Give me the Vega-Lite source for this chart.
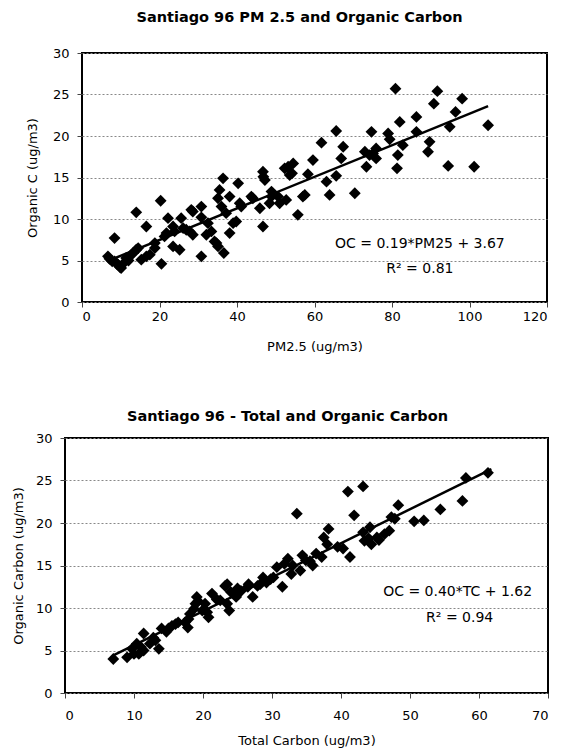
{
  "$schema": "https://vega.github.io/schema/vega-lite/v6.json",
  "padding": {"left": 11, "top": 8, "right": 5, "bottom": 0},
  "config": {
    "font": "DejaVu Sans",
    "view": {"stroke": "black", "strokeWidth": 2},
    "axis": {
      "labelFont": "DejaVu Sans", "labelFontSize": 13, "labelColor": "black",
      "titleFont": "DejaVu Sans", "titleFontSize": 13, "titleFontWeight": "normal", "titleColor": "black",
      "domain": false, "tickColor": "#444", "tickSize": 5,
      "gridColor": "#888", "gridDash": [2, 2], "gridWidth": 1
    },
    "title": {"font": "DejaVu Sans", "fontSize": 14.5, "fontWeight": "bold", "color": "black", "frame": "group", "anchor": "middle"}
  },
  "datasets": {
    "pm": [
      {"pm25": 6.7, "oc": 5.5}, {"pm25": 7.1, "oc": 5.2}, {"pm25": 7.8, "oc": 4.9}, {"pm25": 8.4, "oc": 7.7}, {"pm25": 8.4, "oc": 4.9},
      {"pm25": 9.0, "oc": 4.6}, {"pm25": 9.3, "oc": 4.5}, {"pm25": 9.8, "oc": 4.2}, {"pm25": 10.1, "oc": 4.1}, {"pm25": 10.6, "oc": 4.6},
      {"pm25": 11.4, "oc": 5.3}, {"pm25": 12.0, "oc": 5.0}, {"pm25": 12.5, "oc": 5.6}, {"pm25": 13.2, "oc": 5.9}, {"pm25": 14.0, "oc": 10.8},
      {"pm25": 14.0, "oc": 6.3}, {"pm25": 14.5, "oc": 6.5}, {"pm25": 15.3, "oc": 5.1}, {"pm25": 16.6, "oc": 9.1}, {"pm25": 16.6, "oc": 5.5},
      {"pm25": 17.5, "oc": 5.7}, {"pm25": 18.8, "oc": 7.1}, {"pm25": 18.8, "oc": 6.5}, {"pm25": 20.3, "oc": 12.2}, {"pm25": 20.5, "oc": 4.6},
      {"pm25": 21.3, "oc": 7.9}, {"pm25": 21.8, "oc": 8.3}, {"pm25": 22.2, "oc": 10.1}, {"pm25": 23.5, "oc": 9.1}, {"pm25": 23.9, "oc": 8.5},
      {"pm25": 23.5, "oc": 6.7}, {"pm25": 25.2, "oc": 6.3}, {"pm25": 25.6, "oc": 10.1}, {"pm25": 26.1, "oc": 8.9}, {"pm25": 26.9, "oc": 8.7},
      {"pm25": 27.8, "oc": 8.5}, {"pm25": 28.2, "oc": 11.1}, {"pm25": 28.6, "oc": 10.9}, {"pm25": 28.6, "oc": 8.1}, {"pm25": 30.8, "oc": 11.5},
      {"pm25": 30.8, "oc": 10.2}, {"pm25": 30.8, "oc": 5.5}, {"pm25": 32.1, "oc": 8.1}, {"pm25": 32.5, "oc": 9.5}, {"pm25": 33.4, "oc": 8.5},
      {"pm25": 34.2, "oc": 7.3}, {"pm25": 34.7, "oc": 7.1}, {"pm25": 35.1, "oc": 6.7}, {"pm25": 35.1, "oc": 12.5}, {"pm25": 35.5, "oc": 13.5},
      {"pm25": 36.0, "oc": 11.5}, {"pm25": 36.4, "oc": 14.9}, {"pm25": 36.6, "oc": 5.9}, {"pm25": 37.2, "oc": 10.7}, {"pm25": 38.1, "oc": 12.7},
      {"pm25": 38.1, "oc": 8.3}, {"pm25": 39.0, "oc": 9.5}, {"pm25": 39.8, "oc": 9.7}, {"pm25": 40.3, "oc": 14.3}, {"pm25": 40.7, "oc": 11.9},
      {"pm25": 41.1, "oc": 11.5}, {"pm25": 43.7, "oc": 12.7}, {"pm25": 44.1, "oc": 12.5}, {"pm25": 45.9, "oc": 11.3}, {"pm25": 46.7, "oc": 15.7},
      {"pm25": 46.8, "oc": 15.1}, {"pm25": 47.2, "oc": 14.7}, {"pm25": 46.7, "oc": 9.1}, {"pm25": 48.4, "oc": 11.9}, {"pm25": 48.9, "oc": 12.7},
      {"pm25": 48.9, "oc": 13.3}, {"pm25": 50.6, "oc": 12.7}, {"pm25": 51.0, "oc": 11.9}, {"pm25": 52.3, "oc": 16.1}, {"pm25": 52.7, "oc": 12.3},
      {"pm25": 53.2, "oc": 16.3}, {"pm25": 53.6, "oc": 15.3}, {"pm25": 54.2, "oc": 15.5}, {"pm25": 54.5, "oc": 16.7}, {"pm25": 55.7, "oc": 10.5},
      {"pm25": 57.0, "oc": 12.7}, {"pm25": 57.5, "oc": 12.9}, {"pm25": 58.3, "oc": 15.4}, {"pm25": 59.6, "oc": 17.1}, {"pm25": 61.8, "oc": 19.2},
      {"pm25": 63.1, "oc": 14.5}, {"pm25": 63.9, "oc": 12.9}, {"pm25": 65.6, "oc": 15.2}, {"pm25": 65.6, "oc": 20.6}, {"pm25": 66.9, "oc": 17.3},
      {"pm25": 67.4, "oc": 18.7}, {"pm25": 70.4, "oc": 13.1}, {"pm25": 73.0, "oc": 18.1}, {"pm25": 73.4, "oc": 16.3}, {"pm25": 74.2, "oc": 17.7},
      {"pm25": 74.7, "oc": 20.5}, {"pm25": 75.1, "oc": 17.9}, {"pm25": 75.9, "oc": 18.5}, {"pm25": 75.9, "oc": 17.3}, {"pm25": 79.0, "oc": 20.3},
      {"pm25": 79.4, "oc": 19.6}, {"pm25": 80.9, "oc": 25.7}, {"pm25": 81.3, "oc": 16.1}, {"pm25": 81.5, "oc": 17.7}, {"pm25": 82.0, "oc": 21.7},
      {"pm25": 82.8, "oc": 18.9}, {"pm25": 86.3, "oc": 22.3}, {"pm25": 86.3, "oc": 20.5}, {"pm25": 89.3, "oc": 18.1}, {"pm25": 89.7, "oc": 19.3},
      {"pm25": 90.8, "oc": 23.9}, {"pm25": 91.7, "oc": 25.4}, {"pm25": 94.5, "oc": 16.4}, {"pm25": 94.9, "oc": 21.1}, {"pm25": 96.4, "oc": 22.9},
      {"pm25": 98.1, "oc": 24.5}, {"pm25": 101.2, "oc": 16.3}, {"pm25": 104.8, "oc": 21.3}
    ],
    "pmfit": [{"pm25": 7.0, "oc": 5.0}, {"pm25": 104.8, "oc": 23.6}],
    "pmlabel": [{"eq": "OC = 0.19*PM25 + 3.67", "r2": "R² = 0.81"}],
    "tc": [
      {"tc": 7.0, "oc": 4.0}, {"tc": 9.0, "oc": 4.2}, {"tc": 9.7, "oc": 5.2}, {"tc": 10.0, "oc": 4.6}, {"tc": 10.4, "oc": 5.8},
      {"tc": 10.7, "oc": 4.6}, {"tc": 11.0, "oc": 5.4}, {"tc": 11.4, "oc": 7.0}, {"tc": 11.4, "oc": 5.0}, {"tc": 12.3, "oc": 5.8},
      {"tc": 12.8, "oc": 6.5}, {"tc": 13.1, "oc": 6.2}, {"tc": 13.6, "oc": 5.2}, {"tc": 14.0, "oc": 7.6}, {"tc": 14.7, "oc": 7.2},
      {"tc": 15.0, "oc": 7.6}, {"tc": 15.5, "oc": 7.9}, {"tc": 16.0, "oc": 8.1}, {"tc": 16.4, "oc": 8.3}, {"tc": 17.4, "oc": 8.3},
      {"tc": 17.8, "oc": 7.7}, {"tc": 17.9, "oc": 8.7}, {"tc": 18.1, "oc": 9.3}, {"tc": 18.7, "oc": 9.9}, {"tc": 18.9, "oc": 10.5},
      {"tc": 19.1, "oc": 11.3}, {"tc": 19.3, "oc": 10.8}, {"tc": 19.9, "oc": 9.7}, {"tc": 20.3, "oc": 10.5}, {"tc": 20.6, "oc": 9.5},
      {"tc": 20.8, "oc": 8.9}, {"tc": 21.3, "oc": 11.7}, {"tc": 22.0, "oc": 11.0}, {"tc": 22.5, "oc": 10.9}, {"tc": 23.2, "oc": 12.6},
      {"tc": 23.5, "oc": 12.8}, {"tc": 23.5, "oc": 10.5}, {"tc": 23.8, "oc": 9.7}, {"tc": 24.0, "oc": 11.9}, {"tc": 24.8, "oc": 11.3},
      {"tc": 25.0, "oc": 12.3}, {"tc": 25.5, "oc": 12.0}, {"tc": 26.5, "oc": 12.5}, {"tc": 26.6, "oc": 12.8}, {"tc": 27.2, "oc": 11.3},
      {"tc": 27.9, "oc": 12.6}, {"tc": 28.3, "oc": 12.8}, {"tc": 28.7, "oc": 13.6}, {"tc": 29.2, "oc": 13.0}, {"tc": 29.8, "oc": 13.4},
      {"tc": 30.2, "oc": 13.6}, {"tc": 30.7, "oc": 14.8}, {"tc": 31.5, "oc": 12.5}, {"tc": 31.8, "oc": 15.2}, {"tc": 32.3, "oc": 15.8},
      {"tc": 32.8, "oc": 14.0}, {"tc": 33.0, "oc": 15.0}, {"tc": 33.6, "oc": 21.1}, {"tc": 34.1, "oc": 14.4}, {"tc": 34.4, "oc": 16.2},
      {"tc": 34.9, "oc": 15.6}, {"tc": 35.5, "oc": 15.5}, {"tc": 35.9, "oc": 15.0}, {"tc": 36.4, "oc": 16.4}, {"tc": 37.2, "oc": 16.0},
      {"tc": 37.5, "oc": 18.3}, {"tc": 38.0, "oc": 17.5}, {"tc": 38.2, "oc": 19.3}, {"tc": 39.5, "oc": 17.2}, {"tc": 40.3, "oc": 17.0},
      {"tc": 41.0, "oc": 23.7}, {"tc": 41.3, "oc": 16.0}, {"tc": 41.9, "oc": 20.9}, {"tc": 43.2, "oc": 24.3}, {"tc": 43.2, "oc": 18.9},
      {"tc": 43.4, "oc": 17.9}, {"tc": 44.0, "oc": 18.2}, {"tc": 44.2, "oc": 19.5}, {"tc": 44.4, "oc": 17.5}, {"tc": 45.2, "oc": 18.3},
      {"tc": 45.5, "oc": 18.0}, {"tc": 46.3, "oc": 18.7}, {"tc": 47.0, "oc": 19.1}, {"tc": 47.3, "oc": 20.7}, {"tc": 47.8, "oc": 20.5},
      {"tc": 48.3, "oc": 22.1}, {"tc": 50.6, "oc": 20.2}, {"tc": 52.0, "oc": 20.3}, {"tc": 54.4, "oc": 21.6}, {"tc": 57.6, "oc": 22.6},
      {"tc": 58.1, "oc": 25.3}, {"tc": 61.3, "oc": 25.9}
    ],
    "tcfit": [{"tc": 7.0, "oc": 4.42}, {"tc": 61.8, "oc": 26.34}],
    "tclabel": [{"eq": "OC = 0.40*TC + 1.62", "r2": "R² = 0.94"}]
  },
  "vconcat": [
    {
      "hconcat": [
        {"width": 1, "height": 1, "data": {"values": []}, "mark": {"type": "point", "opacity": 0}, "view": {"stroke": null}},
        {
          "width": 465,
          "height": 249,
          "title": {"text": "Santiago 96 PM 2.5 and Organic Carbon", "offset": 22, "dx": -15},
          "layer": [
            {
              "encoding": {
                "x": {"field": "pm25", "type": "quantitative",
                  "scale": {"domain": [0, 120], "nice": false, "zero": false},
                  "axis": {"title": "PM2.5 (ug/m3)", "values": [0, 20, 40, 60, 80, 100, 120], "grid": false, "labelPadding": 3, "titlePadding": 17}},
                "y": {"field": "oc", "type": "quantitative",
                  "scale": {"domain": [0, 30], "nice": false},
                  "axis": {"title": "Organic C (ug/m3)", "values": [0, 5, 10, 15, 20, 25, 30], "grid": true, "labelPadding": 8, "titlePadding": 13}}
              },
              "layer": [
                {"data": {"name": "pm"}, "mark": {"type": "point", "shape": "diamond", "filled": true, "color": "black", "opacity": 1, "size": 140}},
                {"data": {"name": "pmfit"}, "mark": {"type": "line", "color": "black", "strokeWidth": 2.5}}
              ]
            },
            {"data": {"name": "pmlabel"}, "mark": {"type": "text", "font": "DejaVu Sans", "fontSize": 14, "color": "black", "baseline": "middle"},
              "encoding": {"x": {"datum": 87.2}, "y": {"datum": 7.0}, "text": {"field": "eq"}}},
            {"data": {"name": "pmlabel"}, "mark": {"type": "text", "font": "DejaVu Sans", "fontSize": 14, "color": "black", "baseline": "middle"},
              "encoding": {"x": {"datum": 87.2}, "y": {"datum": 4.0}, "text": {"field": "r2"}}}
          ]
        }
      ],
      "spacing": 16,
      "bounds": "flush"
    },
    {
      "width": 483,
      "height": 255,
      "title": {"text": "Santiago 96 - Total and Organic Carbon", "offset": 8, "dx": -19},
      "layer": [
        {
          "encoding": {
            "x": {"field": "tc", "type": "quantitative",
              "scale": {"domain": [0, 70], "nice": false, "zero": false},
              "axis": {"title": "Total Carbon (ug/m3)", "values": [0, 10, 20, 30, 40, 50, 60, 70], "grid": false, "labelPadding": 11, "titlePadding": 12}},
            "y": {"field": "oc", "type": "quantitative",
              "scale": {"domain": [0, 30], "nice": false},
              "axis": {"title": "Organic Carbon (ug/m3)", "values": [0, 5, 10, 15, 20, 25, 30], "grid": true, "labelPadding": 8, "titlePadding": 9.5}}
          },
          "layer": [
            {"data": {"name": "tc"}, "mark": {"type": "point", "shape": "diamond", "filled": true, "color": "black", "opacity": 1, "size": 140}},
            {"data": {"name": "tcfit"}, "mark": {"type": "line", "color": "black", "strokeWidth": 2.5}}
          ]
        },
        {"data": {"name": "tclabel"}, "mark": {"type": "text", "font": "DejaVu Sans", "fontSize": 14, "color": "black", "baseline": "middle"},
          "encoding": {"x": {"datum": 56.9}, "y": {"datum": 11.9}, "text": {"field": "eq"}}},
        {"data": {"name": "tclabel"}, "mark": {"type": "text", "font": "DejaVu Sans", "fontSize": 14, "color": "black", "baseline": "middle"},
          "encoding": {"x": {"datum": 57.2}, "y": {"datum": 8.85}, "text": {"field": "r2"}}}
      ]
    }
  ],
  "spacing": 53
}
